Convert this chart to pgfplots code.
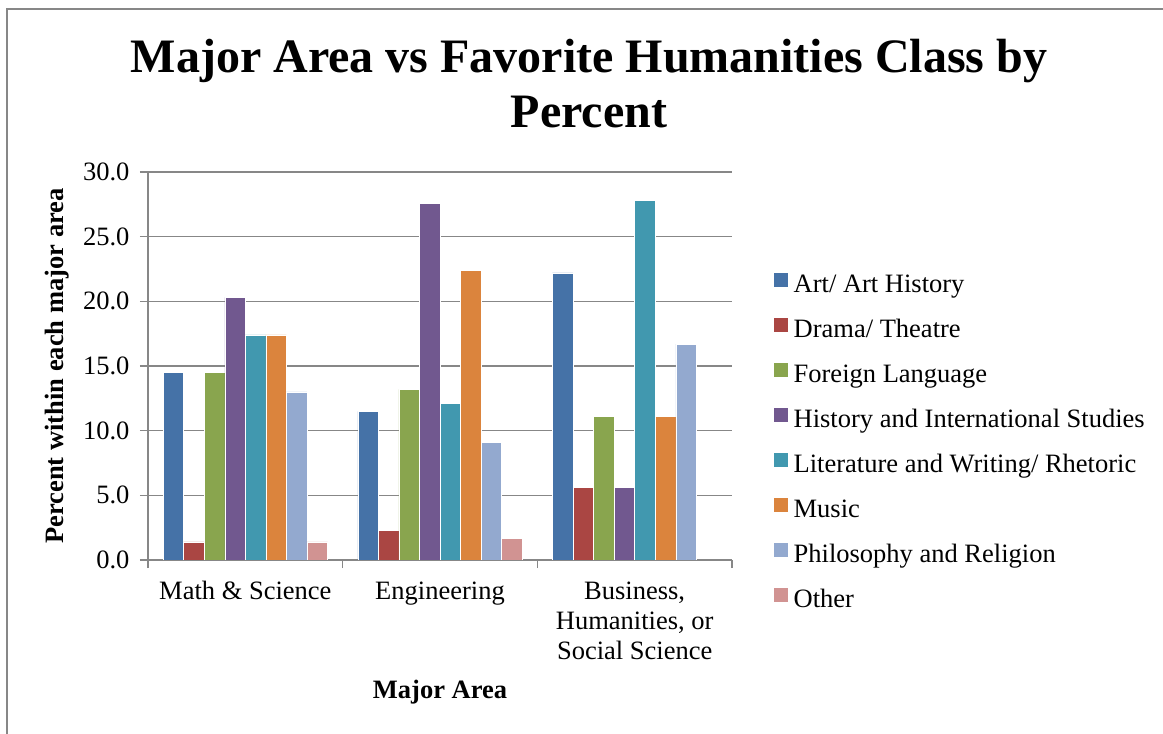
\documentclass[border=0pt]{standalone}
\usepackage{pgfplots}
\pgfplotsset{compat=1.18}
\usepackage{fontspec}
\setmainfont{Liberation Serif}
\definecolor{cArt}{HTML}{4572A7}
\definecolor{cDrama}{HTML}{AA4643}
\definecolor{cForeign}{HTML}{89A54E}
\definecolor{cHist}{HTML}{71588F}
\definecolor{cLit}{HTML}{4198AF}
\definecolor{cMusic}{HTML}{DB843D}
\definecolor{cPhil}{HTML}{93A9CF}
\definecolor{cOther}{HTML}{D19392}
\definecolor{linegray}{HTML}{878787}
\newcommand{\fs}{\fontsize{26.5}{30}\selectfont}
\begin{document}
\begin{tikzpicture}
\path[use as bounding box] (0,0) rectangle (1163pt,734pt);
\draw[linegray, line width=2pt] (7pt,0pt) -- (7pt,725pt) -- (1163pt,725pt);
\begin{axis}[
  at={(148pt,174pt)}, anchor=south west,
  scale only axis, width=584pt, height=388pt,
  xmin=-0.5, xmax=2.5, ymin=0, ymax=30,
  ybar=0pt, bar width=20.55pt,
  axis x line*=bottom, axis y line*=left,
  axis line style={linegray, line width=1.6pt, -},
  tick align=outside,
  major tick length=8pt, minor tick length=8pt,
  tick style={linegray, line width=1.5pt},
  xtick={0,1,2},
  xticklabels={Math \& Science, Engineering, {Business,\\Humanities, or\\Social Science}},
  major x tick style={draw=none},
  minor xtick={-0.5,0.5,1.5,2.5},
  ytick={0,5,...,30},
  yticklabel={\pgfmathprintnumber[fixed,fixed zerofill,precision=1]{\tick}},
  /pgf/number format/assume math mode=true,
  ymajorgrids=true,
  grid style={linegray, line width=1.5pt},
  ticklabel style={font=\fs},
  xticklabel style={align=center, yshift=-10pt},
  yticklabel style={xshift=-7pt},
  xlabel={Major Area},
  xlabel style={font=\fs\bfseries, at={(axis description cs:0.5,-0.3582)}, anchor=base},
  ylabel={Percent within each major area},
  ylabel style={font=\fs\bfseries, at={(axis description cs:-0.1558,0.5)}, anchor=center, rotate=0},
  legend style={at={(1.0719,0.741)}, anchor=north west, draw=none, fill=none,
    font=\fs, inner sep=0pt, row sep=19pt, column sep=3pt,
    nodes={text height=20pt, text depth=6pt, inner ysep=0pt, inner xsep=2.5pt}},
  legend cell align=left,
  legend image code/.code={\path[#1,draw=none] (0pt,-1pt) rectangle (14pt,13pt);},
  every axis plot/.append style={draw=white, line width=0.5pt},
]
\addplot[fill=cArt] coordinates {(0,14.5) (1,11.5) (2,22.2)};
\addlegendentry{Art/ Art History}
\addplot[fill=cDrama] coordinates {(0,1.4) (1,2.3) (2,5.6)};
\addlegendentry{Drama/ Theatre}
\addplot[fill=cForeign] coordinates {(0,14.5) (1,13.2) (2,11.1)};
\addlegendentry{Foreign Language}
\addplot[fill=cHist] coordinates {(0,20.3) (1,27.6) (2,5.6)};
\addlegendentry{History and International Studies}
\addplot[fill=cLit] coordinates {(0,17.4) (1,12.1) (2,27.8)};
\addlegendentry{Literature and Writing/ Rhetoric}
\addplot[fill=cMusic] coordinates {(0,17.4) (1,22.4) (2,11.1)};
\addlegendentry{Music}
\addplot[fill=cPhil] coordinates {(0,13.0) (1,9.1) (2,16.7)};
\addlegendentry{Philosophy and Religion}
\addplot[fill=cOther] coordinates {(0,1.4) (1,1.7)};
\addlegendentry{Other}
\end{axis}
\node[font=\bfseries\fontsize{48}{55}\selectfont, anchor=base] at (589pt,661pt) {Major Area vs Favorite Humanities Class by};
\node[font=\bfseries\fontsize{48}{55}\selectfont, anchor=base] at (589pt,606pt) {Percent};
\end{tikzpicture}
\end{document}
